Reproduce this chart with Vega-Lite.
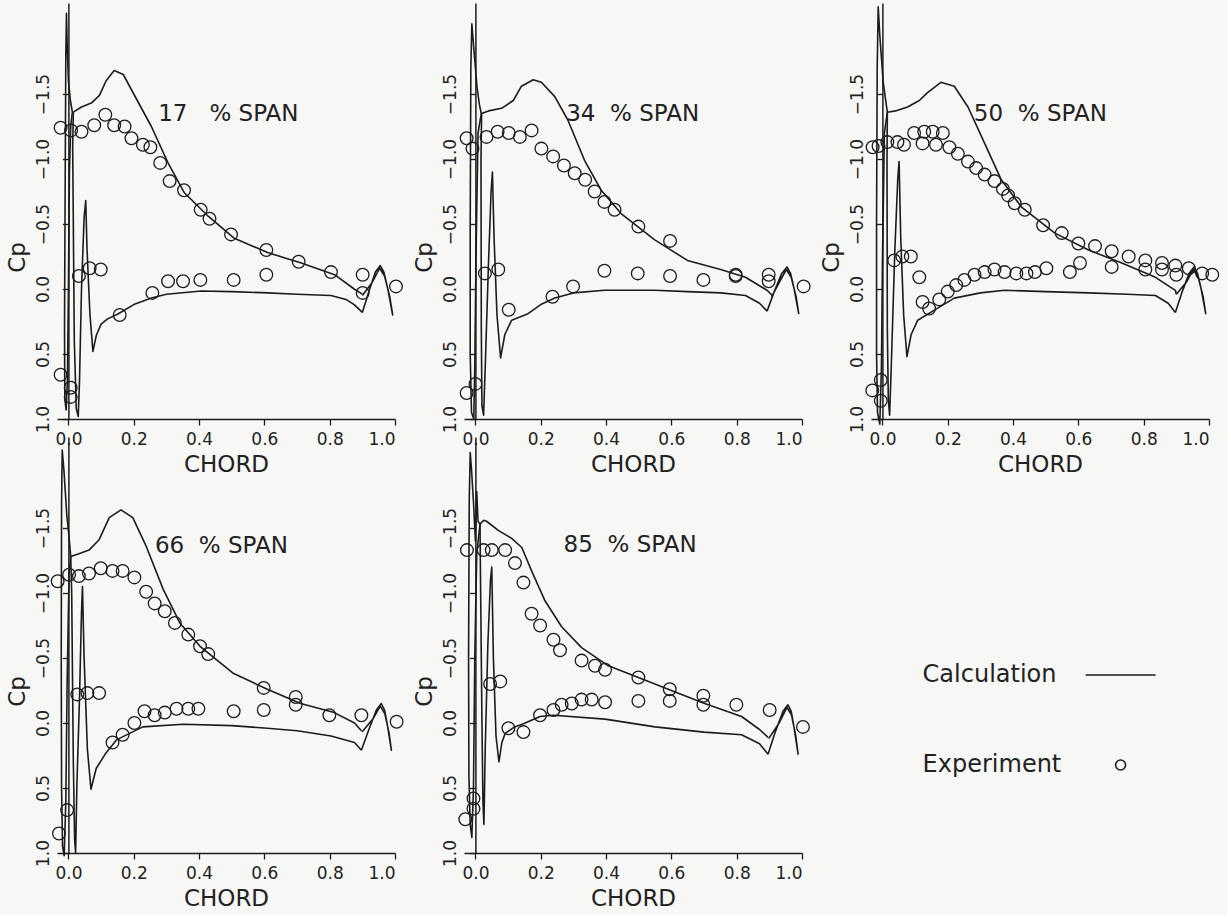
{
  "$schema": "https://vega.github.io/schema/vega-lite/v6.json",
  "background": "#f7f7f5",
  "padding": {"left": 6, "top": 3, "right": 5, "bottom": 5},
  "data": {"values": [
    {"p":"17","s":"Label","t":"17\u00a0\u00a0\u00a0% SPAN"},
    {"p":"34","s":"Label","t":"34\u00a0\u00a0% SPAN"},
    {"p":"50","s":"Label","t":"50\u00a0\u00a0% SPAN"},
    {"p":"66","s":"Label","t":"66\u00a0\u00a0% SPAN"},
    {"p":"85","s":"Label","t":"85\u00a0\u00a0% SPAN"},

    {"p":"17","s":"Calculation","e":"slat","i":0,"x":0.012,"y":-1.36},
    {"p":"17","s":"Calculation","e":"slat","i":1,"x":0.006,"y":-1.45},
    {"p":"17","s":"Calculation","e":"slat","i":2,"x":0.0,"y":-1.6},
    {"p":"17","s":"Calculation","e":"slat","i":3,"x":-0.004,"y":-1.9},
    {"p":"17","s":"Calculation","e":"slat","i":4,"x":-0.006,"y":-2.12},
    {"p":"17","s":"Calculation","e":"slat","i":5,"x":-0.008,"y":-1.8},
    {"p":"17","s":"Calculation","e":"slat","i":6,"x":-0.01,"y":-0.8},
    {"p":"17","s":"Calculation","e":"slat","i":7,"x":-0.012,"y":0.3},
    {"p":"17","s":"Calculation","e":"slat","i":8,"x":-0.011,"y":0.85},
    {"p":"17","s":"Calculation","e":"slat","i":9,"x":-0.007,"y":0.93},
    {"p":"17","s":"Calculation","e":"slat","i":10,"x":-0.003,"y":0.7},
    {"p":"17","s":"Calculation","e":"slat","i":11,"x":0.0,"y":0.0},
    {"p":"17","s":"Calculation","e":"slat","i":12,"x":0.003,"y":-0.9},
    {"p":"17","s":"Calculation","e":"slat","i":13,"x":0.007,"y":-1.25},
    {"p":"17","s":"Calculation","e":"slat","i":14,"x":0.012,"y":-1.36},
    {"p":"17","s":"Calculation","e":"main","i":0,"x":0.9,"y":0.04},
    {"p":"17","s":"Calculation","e":"main","i":1,"x":0.875,"y":0.0},
    {"p":"17","s":"Calculation","e":"main","i":2,"x":0.815,"y":-0.11},
    {"p":"17","s":"Calculation","e":"main","i":3,"x":0.713,"y":-0.2},
    {"p":"17","s":"Calculation","e":"main","i":4,"x":0.61,"y":-0.28},
    {"p":"17","s":"Calculation","e":"main","i":5,"x":0.508,"y":-0.39},
    {"p":"17","s":"Calculation","e":"main","i":6,"x":0.428,"y":-0.56},
    {"p":"17","s":"Calculation","e":"main","i":7,"x":0.355,"y":-0.74},
    {"p":"17","s":"Calculation","e":"main","i":8,"x":0.305,"y":-0.97},
    {"p":"17","s":"Calculation","e":"main","i":9,"x":0.254,"y":-1.25},
    {"p":"17","s":"Calculation","e":"main","i":10,"x":0.2,"y":-1.5},
    {"p":"17","s":"Calculation","e":"main","i":11,"x":0.168,"y":-1.65},
    {"p":"17","s":"Calculation","e":"main","i":12,"x":0.14,"y":-1.68},
    {"p":"17","s":"Calculation","e":"main","i":13,"x":0.115,"y":-1.6},
    {"p":"17","s":"Calculation","e":"main","i":14,"x":0.095,"y":-1.49},
    {"p":"17","s":"Calculation","e":"main","i":15,"x":0.07,"y":-1.43},
    {"p":"17","s":"Calculation","e":"main","i":16,"x":0.04,"y":-1.4},
    {"p":"17","s":"Calculation","e":"main","i":17,"x":0.015,"y":-1.36},
    {"p":"17","s":"Calculation","e":"main","i":18,"x":0.013,"y":-1.1},
    {"p":"17","s":"Calculation","e":"main","i":19,"x":0.018,"y":0.4},
    {"p":"17","s":"Calculation","e":"main","i":20,"x":0.024,"y":0.92},
    {"p":"17","s":"Calculation","e":"main","i":21,"x":0.03,"y":0.98},
    {"p":"17","s":"Calculation","e":"main","i":22,"x":0.034,"y":0.7},
    {"p":"17","s":"Calculation","e":"main","i":23,"x":0.04,"y":0.0},
    {"p":"17","s":"Calculation","e":"main","i":24,"x":0.048,"y":-0.55},
    {"p":"17","s":"Calculation","e":"main","i":25,"x":0.053,"y":-0.68},
    {"p":"17","s":"Calculation","e":"main","i":26,"x":0.057,"y":-0.3},
    {"p":"17","s":"Calculation","e":"main","i":27,"x":0.066,"y":0.2},
    {"p":"17","s":"Calculation","e":"main","i":28,"x":0.075,"y":0.48},
    {"p":"17","s":"Calculation","e":"main","i":29,"x":0.085,"y":0.36},
    {"p":"17","s":"Calculation","e":"main","i":30,"x":0.1,"y":0.27},
    {"p":"17","s":"Calculation","e":"main","i":31,"x":0.12,"y":0.23},
    {"p":"17","s":"Calculation","e":"main","i":32,"x":0.153,"y":0.19},
    {"p":"17","s":"Calculation","e":"main","i":33,"x":0.2,"y":0.12},
    {"p":"17","s":"Calculation","e":"main","i":34,"x":0.254,"y":0.07},
    {"p":"17","s":"Calculation","e":"main","i":35,"x":0.3,"y":0.04},
    {"p":"17","s":"Calculation","e":"main","i":36,"x":0.407,"y":0.015},
    {"p":"17","s":"Calculation","e":"main","i":37,"x":0.5,"y":0.02},
    {"p":"17","s":"Calculation","e":"main","i":38,"x":0.61,"y":0.03},
    {"p":"17","s":"Calculation","e":"main","i":39,"x":0.7,"y":0.04},
    {"p":"17","s":"Calculation","e":"main","i":40,"x":0.804,"y":0.05},
    {"p":"17","s":"Calculation","e":"main","i":41,"x":0.85,"y":0.08},
    {"p":"17","s":"Calculation","e":"main","i":42,"x":0.875,"y":0.12},
    {"p":"17","s":"Calculation","e":"main","i":43,"x":0.9,"y":0.18},
    {"p":"17","s":"Calculation","e":"flap","i":0,"x":0.9,"y":0.18},
    {"p":"17","s":"Calculation","e":"flap","i":1,"x":0.92,"y":0.02},
    {"p":"17","s":"Calculation","e":"flap","i":2,"x":0.94,"y":-0.13},
    {"p":"17","s":"Calculation","e":"flap","i":3,"x":0.955,"y":-0.18},
    {"p":"17","s":"Calculation","e":"flap","i":4,"x":0.966,"y":-0.13},
    {"p":"17","s":"Calculation","e":"flap","i":5,"x":0.978,"y":0.0},
    {"p":"17","s":"Calculation","e":"flap","i":6,"x":0.993,"y":0.2},
    {"p":"17","s":"Calculation","e":"flap","i":7,"x":0.984,"y":0.06},
    {"p":"17","s":"Calculation","e":"flap","i":8,"x":0.968,"y":-0.1},
    {"p":"17","s":"Calculation","e":"flap","i":9,"x":0.953,"y":-0.16},
    {"p":"17","s":"Calculation","e":"flap","i":10,"x":0.93,"y":-0.05},
    {"p":"17","s":"Calculation","e":"flap","i":11,"x":0.9,"y":0.05},

    {"p":"17","s":"Experiment","x":-0.024,"y":-1.24},
    {"p":"17","s":"Experiment","x":0.008,"y":-1.22},
    {"p":"17","s":"Experiment","x":0.04,"y":-1.21},
    {"p":"17","s":"Experiment","x":0.079,"y":-1.26},
    {"p":"17","s":"Experiment","x":0.113,"y":-1.34},
    {"p":"17","s":"Experiment","x":0.14,"y":-1.26},
    {"p":"17","s":"Experiment","x":0.172,"y":-1.25},
    {"p":"17","s":"Experiment","x":0.193,"y":-1.16},
    {"p":"17","s":"Experiment","x":0.228,"y":-1.11},
    {"p":"17","s":"Experiment","x":0.251,"y":-1.09},
    {"p":"17","s":"Experiment","x":0.281,"y":-0.97},
    {"p":"17","s":"Experiment","x":0.31,"y":-0.83},
    {"p":"17","s":"Experiment","x":0.354,"y":-0.76},
    {"p":"17","s":"Experiment","x":0.405,"y":-0.61},
    {"p":"17","s":"Experiment","x":0.432,"y":-0.54},
    {"p":"17","s":"Experiment","x":0.498,"y":-0.42},
    {"p":"17","s":"Experiment","x":0.606,"y":-0.3},
    {"p":"17","s":"Experiment","x":0.705,"y":-0.21},
    {"p":"17","s":"Experiment","x":0.804,"y":-0.13},
    {"p":"17","s":"Experiment","x":0.901,"y":-0.11},
    {"p":"17","s":"Experiment","x":0.901,"y":0.03},
    {"p":"17","s":"Experiment","x":1.003,"y":-0.02},
    {"p":"17","s":"Experiment","x":0.032,"y":-0.1},
    {"p":"17","s":"Experiment","x":0.065,"y":-0.16},
    {"p":"17","s":"Experiment","x":0.099,"y":-0.15},
    {"p":"17","s":"Experiment","x":0.157,"y":0.2},
    {"p":"17","s":"Experiment","x":0.257,"y":0.03},
    {"p":"17","s":"Experiment","x":0.305,"y":-0.06},
    {"p":"17","s":"Experiment","x":0.351,"y":-0.06},
    {"p":"17","s":"Experiment","x":0.404,"y":-0.07},
    {"p":"17","s":"Experiment","x":0.506,"y":-0.07},
    {"p":"17","s":"Experiment","x":0.606,"y":-0.11},
    {"p":"17","s":"Experiment","x":-0.024,"y":0.66},
    {"p":"17","s":"Experiment","x":0.007,"y":0.76},
    {"p":"17","s":"Experiment","x":0.007,"y":0.83},

    {"p":"34","s":"Calculation","e":"slat","i":0,"x":0.018,"y":-1.35},
    {"p":"34","s":"Calculation","e":"slat","i":1,"x":0.012,"y":-1.42},
    {"p":"34","s":"Calculation","e":"slat","i":2,"x":0.005,"y":-1.55},
    {"p":"34","s":"Calculation","e":"slat","i":3,"x":-0.005,"y":-1.85},
    {"p":"34","s":"Calculation","e":"slat","i":4,"x":-0.011,"y":-2.04},
    {"p":"34","s":"Calculation","e":"slat","i":5,"x":-0.014,"y":-1.7},
    {"p":"34","s":"Calculation","e":"slat","i":6,"x":-0.016,"y":-0.5},
    {"p":"34","s":"Calculation","e":"slat","i":7,"x":-0.016,"y":0.5},
    {"p":"34","s":"Calculation","e":"slat","i":8,"x":-0.012,"y":0.95},
    {"p":"34","s":"Calculation","e":"slat","i":9,"x":-0.005,"y":1.0},
    {"p":"34","s":"Calculation","e":"slat","i":10,"x":-0.002,"y":0.6},
    {"p":"34","s":"Calculation","e":"slat","i":11,"x":0.002,"y":-0.3},
    {"p":"34","s":"Calculation","e":"slat","i":12,"x":0.008,"y":-1.2},
    {"p":"34","s":"Calculation","e":"slat","i":13,"x":0.018,"y":-1.35},
    {"p":"34","s":"Calculation","e":"main","i":0,"x":0.909,"y":0.05},
    {"p":"34","s":"Calculation","e":"main","i":1,"x":0.893,"y":0.01},
    {"p":"34","s":"Calculation","e":"main","i":2,"x":0.827,"y":-0.09},
    {"p":"34","s":"Calculation","e":"main","i":3,"x":0.751,"y":-0.15},
    {"p":"34","s":"Calculation","e":"main","i":4,"x":0.649,"y":-0.22},
    {"p":"34","s":"Calculation","e":"main","i":5,"x":0.548,"y":-0.38},
    {"p":"34","s":"Calculation","e":"main","i":6,"x":0.446,"y":-0.58},
    {"p":"34","s":"Calculation","e":"main","i":7,"x":0.385,"y":-0.76},
    {"p":"34","s":"Calculation","e":"main","i":8,"x":0.334,"y":-0.99},
    {"p":"34","s":"Calculation","e":"main","i":9,"x":0.283,"y":-1.3},
    {"p":"34","s":"Calculation","e":"main","i":10,"x":0.243,"y":-1.48},
    {"p":"34","s":"Calculation","e":"main","i":11,"x":0.202,"y":-1.59},
    {"p":"34","s":"Calculation","e":"main","i":12,"x":0.177,"y":-1.61},
    {"p":"34","s":"Calculation","e":"main","i":13,"x":0.141,"y":-1.56},
    {"p":"34","s":"Calculation","e":"main","i":14,"x":0.116,"y":-1.45},
    {"p":"34","s":"Calculation","e":"main","i":15,"x":0.08,"y":-1.39},
    {"p":"34","s":"Calculation","e":"main","i":16,"x":0.04,"y":-1.37},
    {"p":"34","s":"Calculation","e":"main","i":17,"x":0.019,"y":-1.35},
    {"p":"34","s":"Calculation","e":"main","i":18,"x":0.017,"y":-1.0},
    {"p":"34","s":"Calculation","e":"main","i":19,"x":0.018,"y":0.3},
    {"p":"34","s":"Calculation","e":"main","i":20,"x":0.02,"y":0.9},
    {"p":"34","s":"Calculation","e":"main","i":21,"x":0.025,"y":0.97},
    {"p":"34","s":"Calculation","e":"main","i":22,"x":0.03,"y":0.6},
    {"p":"34","s":"Calculation","e":"main","i":23,"x":0.04,"y":-0.2},
    {"p":"34","s":"Calculation","e":"main","i":24,"x":0.048,"y":-0.75},
    {"p":"34","s":"Calculation","e":"main","i":25,"x":0.052,"y":-0.9},
    {"p":"34","s":"Calculation","e":"main","i":26,"x":0.057,"y":-0.4},
    {"p":"34","s":"Calculation","e":"main","i":27,"x":0.066,"y":0.2},
    {"p":"34","s":"Calculation","e":"main","i":28,"x":0.077,"y":0.53},
    {"p":"34","s":"Calculation","e":"main","i":29,"x":0.09,"y":0.35},
    {"p":"34","s":"Calculation","e":"main","i":30,"x":0.111,"y":0.24},
    {"p":"34","s":"Calculation","e":"main","i":31,"x":0.161,"y":0.19},
    {"p":"34","s":"Calculation","e":"main","i":32,"x":0.2,"y":0.12},
    {"p":"34","s":"Calculation","e":"main","i":33,"x":0.243,"y":0.07},
    {"p":"34","s":"Calculation","e":"main","i":34,"x":0.3,"y":0.03},
    {"p":"34","s":"Calculation","e":"main","i":35,"x":0.395,"y":0.01},
    {"p":"34","s":"Calculation","e":"main","i":36,"x":0.548,"y":0.01},
    {"p":"34","s":"Calculation","e":"main","i":37,"x":0.65,"y":0.02},
    {"p":"34","s":"Calculation","e":"main","i":38,"x":0.751,"y":0.03},
    {"p":"34","s":"Calculation","e":"main","i":39,"x":0.827,"y":0.05},
    {"p":"34","s":"Calculation","e":"main","i":40,"x":0.87,"y":0.11},
    {"p":"34","s":"Calculation","e":"main","i":41,"x":0.893,"y":0.17},
    {"p":"34","s":"Calculation","e":"flap","i":0,"x":0.893,"y":0.17},
    {"p":"34","s":"Calculation","e":"flap","i":1,"x":0.915,"y":0.02},
    {"p":"34","s":"Calculation","e":"flap","i":2,"x":0.938,"y":-0.12},
    {"p":"34","s":"Calculation","e":"flap","i":3,"x":0.954,"y":-0.17},
    {"p":"34","s":"Calculation","e":"flap","i":4,"x":0.965,"y":-0.12},
    {"p":"34","s":"Calculation","e":"flap","i":5,"x":0.976,"y":0.0},
    {"p":"34","s":"Calculation","e":"flap","i":6,"x":0.99,"y":0.19},
    {"p":"34","s":"Calculation","e":"flap","i":7,"x":0.982,"y":0.06},
    {"p":"34","s":"Calculation","e":"flap","i":8,"x":0.967,"y":-0.09},
    {"p":"34","s":"Calculation","e":"flap","i":9,"x":0.952,"y":-0.15},
    {"p":"34","s":"Calculation","e":"flap","i":10,"x":0.93,"y":-0.05},
    {"p":"34","s":"Calculation","e":"flap","i":11,"x":0.907,"y":0.06},

    {"p":"34","s":"Experiment","x":-0.027,"y":-1.16},
    {"p":"34","s":"Experiment","x":-0.009,"y":-1.08},
    {"p":"34","s":"Experiment","x":0.034,"y":-1.17},
    {"p":"34","s":"Experiment","x":0.068,"y":-1.21},
    {"p":"34","s":"Experiment","x":0.102,"y":-1.2},
    {"p":"34","s":"Experiment","x":0.136,"y":-1.17},
    {"p":"34","s":"Experiment","x":0.172,"y":-1.22},
    {"p":"34","s":"Experiment","x":0.202,"y":-1.08},
    {"p":"34","s":"Experiment","x":0.238,"y":-1.02},
    {"p":"34","s":"Experiment","x":0.271,"y":-0.95},
    {"p":"34","s":"Experiment","x":0.304,"y":-0.89},
    {"p":"34","s":"Experiment","x":0.336,"y":-0.84},
    {"p":"34","s":"Experiment","x":0.365,"y":-0.75},
    {"p":"34","s":"Experiment","x":0.395,"y":-0.67},
    {"p":"34","s":"Experiment","x":0.426,"y":-0.61},
    {"p":"34","s":"Experiment","x":0.499,"y":-0.48},
    {"p":"34","s":"Experiment","x":0.596,"y":-0.37},
    {"p":"34","s":"Experiment","x":0.797,"y":-0.11},
    {"p":"34","s":"Experiment","x":0.898,"y":-0.11},
    {"p":"34","s":"Experiment","x":1.005,"y":-0.02},
    {"p":"34","s":"Experiment","x":0.029,"y":-0.12},
    {"p":"34","s":"Experiment","x":0.07,"y":-0.15},
    {"p":"34","s":"Experiment","x":0.102,"y":0.16},
    {"p":"34","s":"Experiment","x":0.236,"y":0.06},
    {"p":"34","s":"Experiment","x":0.299,"y":-0.02},
    {"p":"34","s":"Experiment","x":0.395,"y":-0.14},
    {"p":"34","s":"Experiment","x":0.497,"y":-0.12},
    {"p":"34","s":"Experiment","x":0.596,"y":-0.1},
    {"p":"34","s":"Experiment","x":0.698,"y":-0.07},
    {"p":"34","s":"Experiment","x":0.797,"y":-0.1},
    {"p":"34","s":"Experiment","x":0.898,"y":-0.06},
    {"p":"34","s":"Experiment","x":-0.027,"y":0.8},
    {"p":"34","s":"Experiment","x":0.0,"y":0.73},

    {"p":"50","s":"Calculation","e":"slat","i":0,"x":0.015,"y":-1.36},
    {"p":"50","s":"Calculation","e":"slat","i":1,"x":0.01,"y":-1.45},
    {"p":"50","s":"Calculation","e":"slat","i":2,"x":0.002,"y":-1.6},
    {"p":"50","s":"Calculation","e":"slat","i":3,"x":-0.008,"y":-1.95},
    {"p":"50","s":"Calculation","e":"slat","i":4,"x":-0.013,"y":-2.17},
    {"p":"50","s":"Calculation","e":"slat","i":5,"x":-0.016,"y":-1.7},
    {"p":"50","s":"Calculation","e":"slat","i":6,"x":-0.018,"y":-0.5},
    {"p":"50","s":"Calculation","e":"slat","i":7,"x":-0.018,"y":0.5},
    {"p":"50","s":"Calculation","e":"slat","i":8,"x":-0.015,"y":0.95},
    {"p":"50","s":"Calculation","e":"slat","i":9,"x":-0.008,"y":1.04},
    {"p":"50","s":"Calculation","e":"slat","i":10,"x":-0.003,"y":0.6},
    {"p":"50","s":"Calculation","e":"slat","i":11,"x":0.0,"y":-0.2},
    {"p":"50","s":"Calculation","e":"slat","i":12,"x":0.006,"y":-1.2},
    {"p":"50","s":"Calculation","e":"slat","i":13,"x":0.015,"y":-1.36},
    {"p":"50","s":"Calculation","e":"main","i":0,"x":0.9,"y":0.04},
    {"p":"50","s":"Calculation","e":"main","i":1,"x":0.897,"y":0.01},
    {"p":"50","s":"Calculation","e":"main","i":2,"x":0.836,"y":-0.09},
    {"p":"50","s":"Calculation","e":"main","i":3,"x":0.733,"y":-0.2},
    {"p":"50","s":"Calculation","e":"main","i":4,"x":0.631,"y":-0.3},
    {"p":"50","s":"Calculation","e":"main","i":5,"x":0.528,"y":-0.43},
    {"p":"50","s":"Calculation","e":"main","i":6,"x":0.426,"y":-0.63},
    {"p":"50","s":"Calculation","e":"main","i":7,"x":0.364,"y":-0.84},
    {"p":"50","s":"Calculation","e":"main","i":8,"x":0.313,"y":-1.12},
    {"p":"50","s":"Calculation","e":"main","i":9,"x":0.262,"y":-1.4},
    {"p":"50","s":"Calculation","e":"main","i":10,"x":0.22,"y":-1.56},
    {"p":"50","s":"Calculation","e":"main","i":11,"x":0.179,"y":-1.59},
    {"p":"50","s":"Calculation","e":"main","i":12,"x":0.138,"y":-1.51},
    {"p":"50","s":"Calculation","e":"main","i":13,"x":0.113,"y":-1.45},
    {"p":"50","s":"Calculation","e":"main","i":14,"x":0.077,"y":-1.4},
    {"p":"50","s":"Calculation","e":"main","i":15,"x":0.04,"y":-1.37},
    {"p":"50","s":"Calculation","e":"main","i":16,"x":0.015,"y":-1.36},
    {"p":"50","s":"Calculation","e":"main","i":17,"x":0.014,"y":-1.0},
    {"p":"50","s":"Calculation","e":"main","i":18,"x":0.015,"y":0.3},
    {"p":"50","s":"Calculation","e":"main","i":19,"x":0.018,"y":0.85},
    {"p":"50","s":"Calculation","e":"main","i":20,"x":0.022,"y":0.97},
    {"p":"50","s":"Calculation","e":"main","i":21,"x":0.027,"y":0.6},
    {"p":"50","s":"Calculation","e":"main","i":22,"x":0.038,"y":-0.3},
    {"p":"50","s":"Calculation","e":"main","i":23,"x":0.047,"y":-0.85},
    {"p":"50","s":"Calculation","e":"main","i":24,"x":0.051,"y":-0.98},
    {"p":"50","s":"Calculation","e":"main","i":25,"x":0.056,"y":-0.4},
    {"p":"50","s":"Calculation","e":"main","i":26,"x":0.065,"y":0.2},
    {"p":"50","s":"Calculation","e":"main","i":27,"x":0.075,"y":0.52},
    {"p":"50","s":"Calculation","e":"main","i":28,"x":0.088,"y":0.35},
    {"p":"50","s":"Calculation","e":"main","i":29,"x":0.108,"y":0.24},
    {"p":"50","s":"Calculation","e":"main","i":30,"x":0.154,"y":0.17},
    {"p":"50","s":"Calculation","e":"main","i":31,"x":0.22,"y":0.07},
    {"p":"50","s":"Calculation","e":"main","i":32,"x":0.3,"y":0.03},
    {"p":"50","s":"Calculation","e":"main","i":33,"x":0.374,"y":0.01},
    {"p":"50","s":"Calculation","e":"main","i":34,"x":0.5,"y":0.02},
    {"p":"50","s":"Calculation","e":"main","i":35,"x":0.631,"y":0.03},
    {"p":"50","s":"Calculation","e":"main","i":36,"x":0.75,"y":0.04},
    {"p":"50","s":"Calculation","e":"main","i":37,"x":0.836,"y":0.05},
    {"p":"50","s":"Calculation","e":"main","i":38,"x":0.875,"y":0.11},
    {"p":"50","s":"Calculation","e":"main","i":39,"x":0.897,"y":0.18},
    {"p":"50","s":"Calculation","e":"flap","i":0,"x":0.897,"y":0.18},
    {"p":"50","s":"Calculation","e":"flap","i":1,"x":0.918,"y":0.02},
    {"p":"50","s":"Calculation","e":"flap","i":2,"x":0.939,"y":-0.12},
    {"p":"50","s":"Calculation","e":"flap","i":3,"x":0.954,"y":-0.17},
    {"p":"50","s":"Calculation","e":"flap","i":4,"x":0.965,"y":-0.12},
    {"p":"50","s":"Calculation","e":"flap","i":5,"x":0.976,"y":0.0},
    {"p":"50","s":"Calculation","e":"flap","i":6,"x":0.99,"y":0.19},
    {"p":"50","s":"Calculation","e":"flap","i":7,"x":0.982,"y":0.06},
    {"p":"50","s":"Calculation","e":"flap","i":8,"x":0.967,"y":-0.09},
    {"p":"50","s":"Calculation","e":"flap","i":9,"x":0.952,"y":-0.15},
    {"p":"50","s":"Calculation","e":"flap","i":10,"x":0.93,"y":-0.05},
    {"p":"50","s":"Calculation","e":"flap","i":11,"x":0.9,"y":0.04},

    {"p":"50","s":"Experiment","x":-0.03,"y":-1.09},
    {"p":"50","s":"Experiment","x":-0.012,"y":-1.1},
    {"p":"50","s":"Experiment","x":0.015,"y":-1.13},
    {"p":"50","s":"Experiment","x":0.046,"y":-1.13},
    {"p":"50","s":"Experiment","x":0.066,"y":-1.11},
    {"p":"50","s":"Experiment","x":0.097,"y":-1.2},
    {"p":"50","s":"Experiment","x":0.128,"y":-1.21},
    {"p":"50","s":"Experiment","x":0.154,"y":-1.21},
    {"p":"50","s":"Experiment","x":0.185,"y":-1.2},
    {"p":"50","s":"Experiment","x":0.123,"y":-1.12},
    {"p":"50","s":"Experiment","x":0.164,"y":-1.11},
    {"p":"50","s":"Experiment","x":0.205,"y":-1.09},
    {"p":"50","s":"Experiment","x":0.231,"y":-1.04},
    {"p":"50","s":"Experiment","x":0.262,"y":-0.98},
    {"p":"50","s":"Experiment","x":0.287,"y":-0.93},
    {"p":"50","s":"Experiment","x":0.313,"y":-0.88},
    {"p":"50","s":"Experiment","x":0.343,"y":-0.83},
    {"p":"50","s":"Experiment","x":0.369,"y":-0.77},
    {"p":"50","s":"Experiment","x":0.385,"y":-0.72},
    {"p":"50","s":"Experiment","x":0.405,"y":-0.66},
    {"p":"50","s":"Experiment","x":0.436,"y":-0.61},
    {"p":"50","s":"Experiment","x":0.492,"y":-0.49},
    {"p":"50","s":"Experiment","x":0.549,"y":-0.43},
    {"p":"50","s":"Experiment","x":0.6,"y":-0.35},
    {"p":"50","s":"Experiment","x":0.651,"y":-0.33},
    {"p":"50","s":"Experiment","x":0.702,"y":-0.29},
    {"p":"50","s":"Experiment","x":0.754,"y":-0.25},
    {"p":"50","s":"Experiment","x":0.805,"y":-0.22},
    {"p":"50","s":"Experiment","x":0.856,"y":-0.2},
    {"p":"50","s":"Experiment","x":0.897,"y":-0.18},
    {"p":"50","s":"Experiment","x":0.938,"y":-0.16},
    {"p":"50","s":"Experiment","x":0.979,"y":-0.12},
    {"p":"50","s":"Experiment","x":1.01,"y":-0.11},
    {"p":"50","s":"Experiment","x":0.702,"y":-0.17},
    {"p":"50","s":"Experiment","x":0.805,"y":-0.15},
    {"p":"50","s":"Experiment","x":0.856,"y":-0.15},
    {"p":"50","s":"Experiment","x":0.9,"y":-0.11},
    {"p":"50","s":"Experiment","x":0.036,"y":-0.22},
    {"p":"50","s":"Experiment","x":0.061,"y":-0.25},
    {"p":"50","s":"Experiment","x":0.087,"y":-0.25},
    {"p":"50","s":"Experiment","x":0.113,"y":-0.09},
    {"p":"50","s":"Experiment","x":0.123,"y":0.1},
    {"p":"50","s":"Experiment","x":0.143,"y":0.15},
    {"p":"50","s":"Experiment","x":0.174,"y":0.08},
    {"p":"50","s":"Experiment","x":0.2,"y":0.02},
    {"p":"50","s":"Experiment","x":0.226,"y":-0.03},
    {"p":"50","s":"Experiment","x":0.251,"y":-0.07},
    {"p":"50","s":"Experiment","x":0.282,"y":-0.11},
    {"p":"50","s":"Experiment","x":0.313,"y":-0.13},
    {"p":"50","s":"Experiment","x":0.343,"y":-0.15},
    {"p":"50","s":"Experiment","x":0.374,"y":-0.13},
    {"p":"50","s":"Experiment","x":0.41,"y":-0.12},
    {"p":"50","s":"Experiment","x":0.441,"y":-0.12},
    {"p":"50","s":"Experiment","x":0.467,"y":-0.13},
    {"p":"50","s":"Experiment","x":0.502,"y":-0.16},
    {"p":"50","s":"Experiment","x":0.574,"y":-0.13},
    {"p":"50","s":"Experiment","x":0.605,"y":-0.2},
    {"p":"50","s":"Experiment","x":-0.031,"y":0.78},
    {"p":"50","s":"Experiment","x":-0.005,"y":0.7},
    {"p":"50","s":"Experiment","x":-0.005,"y":0.86},

    {"p":"66","s":"Calculation","e":"slat","i":0,"x":0.007,"y":-1.28},
    {"p":"66","s":"Calculation","e":"slat","i":1,"x":0.003,"y":-1.4},
    {"p":"66","s":"Calculation","e":"slat","i":2,"x":-0.005,"y":-1.6},
    {"p":"66","s":"Calculation","e":"slat","i":3,"x":-0.014,"y":-1.95},
    {"p":"66","s":"Calculation","e":"slat","i":4,"x":-0.019,"y":-2.1},
    {"p":"66","s":"Calculation","e":"slat","i":5,"x":-0.021,"y":-1.7},
    {"p":"66","s":"Calculation","e":"slat","i":6,"x":-0.022,"y":-0.5},
    {"p":"66","s":"Calculation","e":"slat","i":7,"x":-0.021,"y":0.5},
    {"p":"66","s":"Calculation","e":"slat","i":8,"x":-0.018,"y":0.95},
    {"p":"66","s":"Calculation","e":"slat","i":9,"x":-0.013,"y":1.02},
    {"p":"66","s":"Calculation","e":"slat","i":10,"x":-0.008,"y":0.6},
    {"p":"66","s":"Calculation","e":"slat","i":11,"x":-0.004,"y":-0.3},
    {"p":"66","s":"Calculation","e":"slat","i":12,"x":0.002,"y":-1.15},
    {"p":"66","s":"Calculation","e":"slat","i":13,"x":0.007,"y":-1.28},
    {"p":"66","s":"Calculation","e":"main","i":0,"x":0.897,"y":0.06},
    {"p":"66","s":"Calculation","e":"main","i":1,"x":0.876,"y":0.0},
    {"p":"66","s":"Calculation","e":"main","i":2,"x":0.814,"y":-0.08},
    {"p":"66","s":"Calculation","e":"main","i":3,"x":0.711,"y":-0.15},
    {"p":"66","s":"Calculation","e":"main","i":4,"x":0.609,"y":-0.26},
    {"p":"66","s":"Calculation","e":"main","i":5,"x":0.506,"y":-0.38},
    {"p":"66","s":"Calculation","e":"main","i":6,"x":0.403,"y":-0.59},
    {"p":"66","s":"Calculation","e":"main","i":7,"x":0.341,"y":-0.77},
    {"p":"66","s":"Calculation","e":"main","i":8,"x":0.29,"y":-1.03},
    {"p":"66","s":"Calculation","e":"main","i":9,"x":0.238,"y":-1.36},
    {"p":"66","s":"Calculation","e":"main","i":10,"x":0.197,"y":-1.58},
    {"p":"66","s":"Calculation","e":"main","i":11,"x":0.161,"y":-1.64},
    {"p":"66","s":"Calculation","e":"main","i":12,"x":0.125,"y":-1.58},
    {"p":"66","s":"Calculation","e":"main","i":13,"x":0.094,"y":-1.41},
    {"p":"66","s":"Calculation","e":"main","i":14,"x":0.063,"y":-1.33},
    {"p":"66","s":"Calculation","e":"main","i":15,"x":0.03,"y":-1.3},
    {"p":"66","s":"Calculation","e":"main","i":16,"x":0.007,"y":-1.28},
    {"p":"66","s":"Calculation","e":"main","i":17,"x":0.01,"y":-1.0},
    {"p":"66","s":"Calculation","e":"main","i":18,"x":0.015,"y":0.3},
    {"p":"66","s":"Calculation","e":"main","i":19,"x":0.019,"y":0.9},
    {"p":"66","s":"Calculation","e":"main","i":20,"x":0.022,"y":1.0},
    {"p":"66","s":"Calculation","e":"main","i":21,"x":0.026,"y":0.47},
    {"p":"66","s":"Calculation","e":"main","i":22,"x":0.034,"y":-0.2},
    {"p":"66","s":"Calculation","e":"main","i":23,"x":0.04,"y":-0.85},
    {"p":"66","s":"Calculation","e":"main","i":24,"x":0.043,"y":-1.05},
    {"p":"66","s":"Calculation","e":"main","i":25,"x":0.048,"y":-0.5},
    {"p":"66","s":"Calculation","e":"main","i":26,"x":0.058,"y":0.2},
    {"p":"66","s":"Calculation","e":"main","i":27,"x":0.069,"y":0.51},
    {"p":"66","s":"Calculation","e":"main","i":28,"x":0.085,"y":0.35},
    {"p":"66","s":"Calculation","e":"main","i":29,"x":0.115,"y":0.23},
    {"p":"66","s":"Calculation","e":"main","i":30,"x":0.147,"y":0.13},
    {"p":"66","s":"Calculation","e":"main","i":31,"x":0.228,"y":0.03},
    {"p":"66","s":"Calculation","e":"main","i":32,"x":0.351,"y":0.01},
    {"p":"66","s":"Calculation","e":"main","i":33,"x":0.5,"y":0.02},
    {"p":"66","s":"Calculation","e":"main","i":34,"x":0.609,"y":0.04},
    {"p":"66","s":"Calculation","e":"main","i":35,"x":0.7,"y":0.06},
    {"p":"66","s":"Calculation","e":"main","i":36,"x":0.804,"y":0.1},
    {"p":"66","s":"Calculation","e":"main","i":37,"x":0.876,"y":0.15},
    {"p":"66","s":"Calculation","e":"main","i":38,"x":0.897,"y":0.21},
    {"p":"66","s":"Calculation","e":"flap","i":0,"x":0.897,"y":0.21},
    {"p":"66","s":"Calculation","e":"flap","i":1,"x":0.92,"y":0.05},
    {"p":"66","s":"Calculation","e":"flap","i":2,"x":0.943,"y":-0.1},
    {"p":"66","s":"Calculation","e":"flap","i":3,"x":0.958,"y":-0.15},
    {"p":"66","s":"Calculation","e":"flap","i":4,"x":0.968,"y":-0.1},
    {"p":"66","s":"Calculation","e":"flap","i":5,"x":0.977,"y":0.02},
    {"p":"66","s":"Calculation","e":"flap","i":6,"x":0.989,"y":0.21},
    {"p":"66","s":"Calculation","e":"flap","i":7,"x":0.982,"y":0.08},
    {"p":"66","s":"Calculation","e":"flap","i":8,"x":0.969,"y":-0.07},
    {"p":"66","s":"Calculation","e":"flap","i":9,"x":0.955,"y":-0.13},
    {"p":"66","s":"Calculation","e":"flap","i":10,"x":0.932,"y":-0.03},
    {"p":"66","s":"Calculation","e":"flap","i":11,"x":0.899,"y":0.07},

    {"p":"66","s":"Experiment","x":-0.033,"y":-1.09},
    {"p":"66","s":"Experiment","x":0.002,"y":-1.14},
    {"p":"66","s":"Experiment","x":0.032,"y":-1.13},
    {"p":"66","s":"Experiment","x":0.063,"y":-1.15},
    {"p":"66","s":"Experiment","x":0.099,"y":-1.19},
    {"p":"66","s":"Experiment","x":0.135,"y":-1.17},
    {"p":"66","s":"Experiment","x":0.166,"y":-1.17},
    {"p":"66","s":"Experiment","x":0.202,"y":-1.12},
    {"p":"66","s":"Experiment","x":0.238,"y":-1.01},
    {"p":"66","s":"Experiment","x":0.264,"y":-0.92},
    {"p":"66","s":"Experiment","x":0.295,"y":-0.86},
    {"p":"66","s":"Experiment","x":0.326,"y":-0.77},
    {"p":"66","s":"Experiment","x":0.367,"y":-0.68},
    {"p":"66","s":"Experiment","x":0.403,"y":-0.59},
    {"p":"66","s":"Experiment","x":0.428,"y":-0.53},
    {"p":"66","s":"Experiment","x":0.598,"y":-0.27},
    {"p":"66","s":"Experiment","x":0.696,"y":-0.2},
    {"p":"66","s":"Experiment","x":0.799,"y":-0.06},
    {"p":"66","s":"Experiment","x":0.897,"y":-0.06},
    {"p":"66","s":"Experiment","x":1.005,"y":-0.01},
    {"p":"66","s":"Experiment","x":0.027,"y":-0.22},
    {"p":"66","s":"Experiment","x":0.058,"y":-0.23},
    {"p":"66","s":"Experiment","x":0.094,"y":-0.23},
    {"p":"66","s":"Experiment","x":0.135,"y":0.15},
    {"p":"66","s":"Experiment","x":0.166,"y":0.09},
    {"p":"66","s":"Experiment","x":0.202,"y":0.0},
    {"p":"66","s":"Experiment","x":0.233,"y":-0.09},
    {"p":"66","s":"Experiment","x":0.264,"y":-0.06},
    {"p":"66","s":"Experiment","x":0.295,"y":-0.08},
    {"p":"66","s":"Experiment","x":0.331,"y":-0.11},
    {"p":"66","s":"Experiment","x":0.367,"y":-0.11},
    {"p":"66","s":"Experiment","x":0.398,"y":-0.11},
    {"p":"66","s":"Experiment","x":0.506,"y":-0.09},
    {"p":"66","s":"Experiment","x":0.598,"y":-0.1},
    {"p":"66","s":"Experiment","x":0.696,"y":-0.14},
    {"p":"66","s":"Experiment","x":-0.029,"y":0.85},
    {"p":"66","s":"Experiment","x":-0.004,"y":0.67},

    {"p":"85","s":"Calculation","e":"slat","i":0,"x":0.014,"y":-1.53},
    {"p":"85","s":"Calculation","e":"slat","i":1,"x":0.008,"y":-1.55},
    {"p":"85","s":"Calculation","e":"slat","i":2,"x":0.004,"y":-1.78},
    {"p":"85","s":"Calculation","e":"slat","i":3,"x":0.0,"y":-1.4},
    {"p":"85","s":"Calculation","e":"slat","i":4,"x":-0.006,"y":-1.7},
    {"p":"85","s":"Calculation","e":"slat","i":5,"x":-0.012,"y":-1.95},
    {"p":"85","s":"Calculation","e":"slat","i":6,"x":-0.016,"y":-2.08},
    {"p":"85","s":"Calculation","e":"slat","i":7,"x":-0.019,"y":-1.7},
    {"p":"85","s":"Calculation","e":"slat","i":8,"x":-0.021,"y":-0.5},
    {"p":"85","s":"Calculation","e":"slat","i":9,"x":-0.02,"y":0.4},
    {"p":"85","s":"Calculation","e":"slat","i":10,"x":-0.016,"y":0.78},
    {"p":"85","s":"Calculation","e":"slat","i":11,"x":-0.011,"y":0.88},
    {"p":"85","s":"Calculation","e":"slat","i":12,"x":-0.006,"y":0.5},
    {"p":"85","s":"Calculation","e":"slat","i":13,"x":-0.002,"y":-0.5},
    {"p":"85","s":"Calculation","e":"slat","i":14,"x":0.004,"y":-1.3},
    {"p":"85","s":"Calculation","e":"slat","i":15,"x":0.014,"y":-1.53},
    {"p":"85","s":"Calculation","e":"main","i":0,"x":0.896,"y":0.11},
    {"p":"85","s":"Calculation","e":"main","i":1,"x":0.87,"y":0.05},
    {"p":"85","s":"Calculation","e":"main","i":2,"x":0.815,"y":-0.05},
    {"p":"85","s":"Calculation","e":"main","i":3,"x":0.702,"y":-0.15},
    {"p":"85","s":"Calculation","e":"main","i":4,"x":0.6,"y":-0.25},
    {"p":"85","s":"Calculation","e":"main","i":5,"x":0.499,"y":-0.35},
    {"p":"85","s":"Calculation","e":"main","i":6,"x":0.407,"y":-0.44},
    {"p":"85","s":"Calculation","e":"main","i":7,"x":0.325,"y":-0.58},
    {"p":"85","s":"Calculation","e":"main","i":8,"x":0.264,"y":-0.74},
    {"p":"85","s":"Calculation","e":"main","i":9,"x":0.213,"y":-0.94},
    {"p":"85","s":"Calculation","e":"main","i":10,"x":0.172,"y":-1.17},
    {"p":"85","s":"Calculation","e":"main","i":11,"x":0.142,"y":-1.35},
    {"p":"85","s":"Calculation","e":"main","i":12,"x":0.111,"y":-1.42},
    {"p":"85","s":"Calculation","e":"main","i":13,"x":0.071,"y":-1.48},
    {"p":"85","s":"Calculation","e":"main","i":14,"x":0.035,"y":-1.55},
    {"p":"85","s":"Calculation","e":"main","i":15,"x":0.025,"y":-1.56},
    {"p":"85","s":"Calculation","e":"main","i":16,"x":0.014,"y":-1.53},
    {"p":"85","s":"Calculation","e":"main","i":17,"x":0.016,"y":-1.0},
    {"p":"85","s":"Calculation","e":"main","i":18,"x":0.02,"y":0.0},
    {"p":"85","s":"Calculation","e":"main","i":19,"x":0.023,"y":0.6},
    {"p":"85","s":"Calculation","e":"main","i":20,"x":0.026,"y":0.78},
    {"p":"85","s":"Calculation","e":"main","i":21,"x":0.03,"y":0.2},
    {"p":"85","s":"Calculation","e":"main","i":22,"x":0.038,"y":-0.6},
    {"p":"85","s":"Calculation","e":"main","i":23,"x":0.046,"y":-1.1},
    {"p":"85","s":"Calculation","e":"main","i":24,"x":0.05,"y":-1.2},
    {"p":"85","s":"Calculation","e":"main","i":25,"x":0.055,"y":-0.5},
    {"p":"85","s":"Calculation","e":"main","i":26,"x":0.063,"y":0.1},
    {"p":"85","s":"Calculation","e":"main","i":27,"x":0.072,"y":0.3},
    {"p":"85","s":"Calculation","e":"main","i":28,"x":0.081,"y":0.15},
    {"p":"85","s":"Calculation","e":"main","i":29,"x":0.091,"y":0.08},
    {"p":"85","s":"Calculation","e":"main","i":30,"x":0.12,"y":0.03},
    {"p":"85","s":"Calculation","e":"main","i":31,"x":0.147,"y":0.005},
    {"p":"85","s":"Calculation","e":"main","i":32,"x":0.198,"y":-0.05},
    {"p":"85","s":"Calculation","e":"main","i":33,"x":0.239,"y":-0.06},
    {"p":"85","s":"Calculation","e":"main","i":34,"x":0.397,"y":-0.03},
    {"p":"85","s":"Calculation","e":"main","i":35,"x":0.55,"y":0.03},
    {"p":"85","s":"Calculation","e":"main","i":36,"x":0.7,"y":0.07},
    {"p":"85","s":"Calculation","e":"main","i":37,"x":0.815,"y":0.09},
    {"p":"85","s":"Calculation","e":"main","i":38,"x":0.87,"y":0.16},
    {"p":"85","s":"Calculation","e":"main","i":39,"x":0.896,"y":0.24},
    {"p":"85","s":"Calculation","e":"flap","i":0,"x":0.896,"y":0.24},
    {"p":"85","s":"Calculation","e":"flap","i":1,"x":0.918,"y":0.07},
    {"p":"85","s":"Calculation","e":"flap","i":2,"x":0.942,"y":-0.09},
    {"p":"85","s":"Calculation","e":"flap","i":3,"x":0.957,"y":-0.14},
    {"p":"85","s":"Calculation","e":"flap","i":4,"x":0.967,"y":-0.09},
    {"p":"85","s":"Calculation","e":"flap","i":5,"x":0.976,"y":0.04},
    {"p":"85","s":"Calculation","e":"flap","i":6,"x":0.988,"y":0.24},
    {"p":"85","s":"Calculation","e":"flap","i":7,"x":0.981,"y":0.1},
    {"p":"85","s":"Calculation","e":"flap","i":8,"x":0.968,"y":-0.06},
    {"p":"85","s":"Calculation","e":"flap","i":9,"x":0.954,"y":-0.12},
    {"p":"85","s":"Calculation","e":"flap","i":10,"x":0.93,"y":0.0},
    {"p":"85","s":"Calculation","e":"flap","i":11,"x":0.898,"y":0.12},

    {"p":"85","s":"Experiment","x":-0.026,"y":-1.33},
    {"p":"85","s":"Experiment","x":0.025,"y":-1.33},
    {"p":"85","s":"Experiment","x":0.05,"y":-1.33},
    {"p":"85","s":"Experiment","x":0.091,"y":-1.33},
    {"p":"85","s":"Experiment","x":0.121,"y":-1.23},
    {"p":"85","s":"Experiment","x":0.147,"y":-1.08},
    {"p":"85","s":"Experiment","x":0.172,"y":-0.84},
    {"p":"85","s":"Experiment","x":0.198,"y":-0.75},
    {"p":"85","s":"Experiment","x":0.239,"y":-0.64},
    {"p":"85","s":"Experiment","x":0.259,"y":-0.56},
    {"p":"85","s":"Experiment","x":0.325,"y":-0.48},
    {"p":"85","s":"Experiment","x":0.366,"y":-0.44},
    {"p":"85","s":"Experiment","x":0.397,"y":-0.41},
    {"p":"85","s":"Experiment","x":0.499,"y":-0.35},
    {"p":"85","s":"Experiment","x":0.595,"y":-0.26},
    {"p":"85","s":"Experiment","x":0.698,"y":-0.21},
    {"p":"85","s":"Experiment","x":0.799,"y":-0.14},
    {"p":"85","s":"Experiment","x":0.901,"y":-0.1},
    {"p":"85","s":"Experiment","x":1.003,"y":0.03},
    {"p":"85","s":"Experiment","x":0.045,"y":-0.3},
    {"p":"85","s":"Experiment","x":0.076,"y":-0.32},
    {"p":"85","s":"Experiment","x":0.101,"y":0.04},
    {"p":"85","s":"Experiment","x":0.147,"y":0.07},
    {"p":"85","s":"Experiment","x":0.198,"y":-0.06},
    {"p":"85","s":"Experiment","x":0.239,"y":-0.1},
    {"p":"85","s":"Experiment","x":0.264,"y":-0.14},
    {"p":"85","s":"Experiment","x":0.295,"y":-0.15},
    {"p":"85","s":"Experiment","x":0.325,"y":-0.18},
    {"p":"85","s":"Experiment","x":0.356,"y":-0.18},
    {"p":"85","s":"Experiment","x":0.397,"y":-0.16},
    {"p":"85","s":"Experiment","x":0.499,"y":-0.17},
    {"p":"85","s":"Experiment","x":0.595,"y":-0.17},
    {"p":"85","s":"Experiment","x":0.698,"y":-0.14},
    {"p":"85","s":"Experiment","x":-0.031,"y":0.74},
    {"p":"85","s":"Experiment","x":-0.006,"y":0.58},
    {"p":"85","s":"Experiment","x":-0.006,"y":0.66}
  ]},
  "columns": 3,
  "spacing": {"row": 18, "column": 69},
  "bounds": "flush",
  "concat": [
    {"width": 338, "height": 416, "transform": [{"filter": "datum.p === '17'"}], "layer": [
      {"transform": [{"filter": "datum.s === 'Calculation'"}], "mark": {"type": "line", "color": "#1c1c1c", "strokeWidth": 1.6, "strokeJoin": "round"},
       "encoding": {"x": {"field": "x", "type": "quantitative", "scale": {"domain": [-0.035, 1.0], "nice": false, "zero": false}, "axis": {"values": [0, 0.2, 0.4, 0.6, 0.8, 1.0], "format": ".1f", "title": "CHORD"}},
                    "y": {"field": "y", "type": "quantitative", "scale": {"domain": [1.0, -2.2], "nice": false, "zero": false}, "axis": {"values": [1.0, 0.5, 0.0, -0.5, -1.0, -1.5], "format": ".1f", "title": "Cp", "labelAngle": -90, "offset": -11.4, "titleY": 254}},
                    "detail": {"field": "e", "type": "nominal"}, "order": {"field": "i", "type": "quantitative"}}},
      {"transform": [{"filter": "datum.s === 'Experiment'"}], "mark": {"type": "point", "filled": false, "color": "#1c1c1c", "size": 160, "strokeWidth": 1.3, "opacity": 1},
       "encoding": {"x": {"field": "x", "type": "quantitative", "scale": {"domain": [-0.035, 1.0], "nice": false, "zero": false}, "axis": {"values": [0, 0.2, 0.4, 0.6, 0.8, 1.0], "format": ".1f", "title": "CHORD"}},
                    "y": {"field": "y", "type": "quantitative", "scale": {"domain": [1.0, -2.2], "nice": false, "zero": false}, "axis": {"values": [1.0, 0.5, 0.0, -0.5, -1.0, -1.5], "format": ".1f", "title": "Cp", "labelAngle": -90, "offset": -11.4, "titleY": 254}},
                    "shape": {"field": "s", "type": "nominal", "scale": {"domain": ["Calculation", "Experiment"], "range": ["M-7,0H7", "circle"]},
                              "legend": {"orient": "none", "legendX": 1051.6, "legendY": 660, "title": null, "labelFontSize": 24, "labelFont": "DejaVu Sans", "labelColor": "#222", "symbolSize": 100, "symbolStrokeColor": "#1c1c1c", "symbolFillColor": "transparent", "symbolStrokeWidth": 1.6, "labelOffset": -210, "rowPadding": 66, "padding": 0, "labelAlign": "left", "labelLimit": 0}}}},
      {"transform": [{"filter": "datum.s === 'Label'"}], "mark": {"type": "text", "align": "left", "baseline": "middle", "fontSize": 23, "font": "DejaVu Sans", "color": "#222"},
       "encoding": {"x": {"datum": 0.275, "type": "quantitative"}, "y": {"datum": -1.35, "type": "quantitative"}, "text": {"field": "t", "type": "nominal"}}}
    ]},
    {"width": 338, "height": 416, "transform": [{"filter": "datum.p === '34'"}], "layer": [
      {"transform": [{"filter": "datum.s === 'Calculation'"}], "mark": {"type": "line", "color": "#1c1c1c", "strokeWidth": 1.6, "strokeJoin": "round"},
       "encoding": {"x": {"field": "x", "type": "quantitative", "scale": {"domain": [-0.035, 1.0], "nice": false, "zero": false}, "axis": {"values": [0, 0.2, 0.4, 0.6, 0.8, 1.0], "format": ".1f", "title": "CHORD"}},
                    "y": {"field": "y", "type": "quantitative", "scale": {"domain": [1.0, -2.2], "nice": false, "zero": false}, "axis": {"values": [1.0, 0.5, 0.0, -0.5, -1.0, -1.5], "format": ".1f", "title": "Cp", "labelAngle": -90, "offset": -11.4, "titleY": 254}},
                    "detail": {"field": "e", "type": "nominal"}, "order": {"field": "i", "type": "quantitative"}}},
      {"transform": [{"filter": "datum.s === 'Experiment'"}], "mark": {"type": "point", "filled": false, "color": "#1c1c1c", "size": 160, "strokeWidth": 1.3, "opacity": 1},
       "encoding": {"x": {"field": "x", "type": "quantitative", "scale": {"domain": [-0.035, 1.0], "nice": false, "zero": false}, "axis": {"values": [0, 0.2, 0.4, 0.6, 0.8, 1.0], "format": ".1f", "title": "CHORD"}},
                    "y": {"field": "y", "type": "quantitative", "scale": {"domain": [1.0, -2.2], "nice": false, "zero": false}, "axis": {"values": [1.0, 0.5, 0.0, -0.5, -1.0, -1.5], "format": ".1f", "title": "Cp", "labelAngle": -90, "offset": -11.4, "titleY": 254}},
                    "shape": {"field": "s", "type": "nominal", "scale": {"domain": ["Calculation", "Experiment"], "range": ["M-7,0H7", "circle"]},
                              "legend": {"orient": "none", "legendX": 1051.6, "legendY": 660, "title": null, "labelFontSize": 24, "labelFont": "DejaVu Sans", "labelColor": "#222", "symbolSize": 100, "symbolStrokeColor": "#1c1c1c", "symbolFillColor": "transparent", "symbolStrokeWidth": 1.6, "labelOffset": -210, "rowPadding": 66, "padding": 0, "labelAlign": "left", "labelLimit": 0}}}},
      {"transform": [{"filter": "datum.s === 'Label'"}], "mark": {"type": "text", "align": "left", "baseline": "middle", "fontSize": 23, "font": "DejaVu Sans", "color": "#222"},
       "encoding": {"x": {"datum": 0.278, "type": "quantitative"}, "y": {"datum": -1.35, "type": "quantitative"}, "text": {"field": "t", "type": "nominal"}}}
    ]},
    {"width": 338, "height": 416, "transform": [{"filter": "datum.p === '50'"}], "layer": [
      {"transform": [{"filter": "datum.s === 'Calculation'"}], "mark": {"type": "line", "color": "#1c1c1c", "strokeWidth": 1.6, "strokeJoin": "round"},
       "encoding": {"x": {"field": "x", "type": "quantitative", "scale": {"domain": [-0.035, 1.0], "nice": false, "zero": false}, "axis": {"values": [0, 0.2, 0.4, 0.6, 0.8, 1.0], "format": ".1f", "title": "CHORD"}},
                    "y": {"field": "y", "type": "quantitative", "scale": {"domain": [1.0, -2.2], "nice": false, "zero": false}, "axis": {"values": [1.0, 0.5, 0.0, -0.5, -1.0, -1.5], "format": ".1f", "title": "Cp", "labelAngle": -90, "offset": -11.4, "titleY": 254}},
                    "detail": {"field": "e", "type": "nominal"}, "order": {"field": "i", "type": "quantitative"}}},
      {"transform": [{"filter": "datum.s === 'Experiment'"}], "mark": {"type": "point", "filled": false, "color": "#1c1c1c", "size": 160, "strokeWidth": 1.3, "opacity": 1},
       "encoding": {"x": {"field": "x", "type": "quantitative", "scale": {"domain": [-0.035, 1.0], "nice": false, "zero": false}, "axis": {"values": [0, 0.2, 0.4, 0.6, 0.8, 1.0], "format": ".1f", "title": "CHORD"}},
                    "y": {"field": "y", "type": "quantitative", "scale": {"domain": [1.0, -2.2], "nice": false, "zero": false}, "axis": {"values": [1.0, 0.5, 0.0, -0.5, -1.0, -1.5], "format": ".1f", "title": "Cp", "labelAngle": -90, "offset": -11.4, "titleY": 254}},
                    "shape": {"field": "s", "type": "nominal", "scale": {"domain": ["Calculation", "Experiment"], "range": ["M-7,0H7", "circle"]},
                              "legend": {"orient": "none", "legendX": 1051.6, "legendY": 660, "title": null, "labelFontSize": 24, "labelFont": "DejaVu Sans", "labelColor": "#222", "symbolSize": 100, "symbolStrokeColor": "#1c1c1c", "symbolFillColor": "transparent", "symbolStrokeWidth": 1.6, "labelOffset": -210, "rowPadding": 66, "padding": 0, "labelAlign": "left", "labelLimit": 0}}}},
      {"transform": [{"filter": "datum.s === 'Label'"}], "mark": {"type": "text", "align": "left", "baseline": "middle", "fontSize": 23, "font": "DejaVu Sans", "color": "#222"},
       "encoding": {"x": {"datum": 0.28, "type": "quantitative"}, "y": {"datum": -1.35, "type": "quantitative"}, "text": {"field": "t", "type": "nominal"}}}
    ]},
    {"width": 338, "height": 416, "transform": [{"filter": "datum.p === '66'"}], "layer": [
      {"transform": [{"filter": "datum.s === 'Calculation'"}], "mark": {"type": "line", "color": "#1c1c1c", "strokeWidth": 1.6, "strokeJoin": "round"},
       "encoding": {"x": {"field": "x", "type": "quantitative", "scale": {"domain": [-0.035, 1.0], "nice": false, "zero": false}, "axis": {"values": [0, 0.2, 0.4, 0.6, 0.8, 1.0], "format": ".1f", "title": "CHORD"}},
                    "y": {"field": "y", "type": "quantitative", "scale": {"domain": [1.0, -2.2], "nice": false, "zero": false}, "axis": {"values": [1.0, 0.5, 0.0, -0.5, -1.0, -1.5], "format": ".1f", "title": "Cp", "labelAngle": -90, "offset": -11.4, "titleY": 254}},
                    "detail": {"field": "e", "type": "nominal"}, "order": {"field": "i", "type": "quantitative"}}},
      {"transform": [{"filter": "datum.s === 'Experiment'"}], "mark": {"type": "point", "filled": false, "color": "#1c1c1c", "size": 160, "strokeWidth": 1.3, "opacity": 1},
       "encoding": {"x": {"field": "x", "type": "quantitative", "scale": {"domain": [-0.035, 1.0], "nice": false, "zero": false}, "axis": {"values": [0, 0.2, 0.4, 0.6, 0.8, 1.0], "format": ".1f", "title": "CHORD"}},
                    "y": {"field": "y", "type": "quantitative", "scale": {"domain": [1.0, -2.2], "nice": false, "zero": false}, "axis": {"values": [1.0, 0.5, 0.0, -0.5, -1.0, -1.5], "format": ".1f", "title": "Cp", "labelAngle": -90, "offset": -11.4, "titleY": 254}},
                    "shape": {"field": "s", "type": "nominal", "scale": {"domain": ["Calculation", "Experiment"], "range": ["M-7,0H7", "circle"]},
                              "legend": {"orient": "none", "legendX": 1051.6, "legendY": 660, "title": null, "labelFontSize": 24, "labelFont": "DejaVu Sans", "labelColor": "#222", "symbolSize": 100, "symbolStrokeColor": "#1c1c1c", "symbolFillColor": "transparent", "symbolStrokeWidth": 1.6, "labelOffset": -210, "rowPadding": 66, "padding": 0, "labelAlign": "left", "labelLimit": 0}}}},
      {"transform": [{"filter": "datum.s === 'Label'"}], "mark": {"type": "text", "align": "left", "baseline": "middle", "fontSize": 23, "font": "DejaVu Sans", "color": "#222"},
       "encoding": {"x": {"datum": 0.265, "type": "quantitative"}, "y": {"datum": -1.36, "type": "quantitative"}, "text": {"field": "t", "type": "nominal"}}}
    ]},
    {"width": 338, "height": 416, "transform": [{"filter": "datum.p === '85'"}], "layer": [
      {"transform": [{"filter": "datum.s === 'Calculation'"}], "mark": {"type": "line", "color": "#1c1c1c", "strokeWidth": 1.6, "strokeJoin": "round"},
       "encoding": {"x": {"field": "x", "type": "quantitative", "scale": {"domain": [-0.035, 1.0], "nice": false, "zero": false}, "axis": {"values": [0, 0.2, 0.4, 0.6, 0.8, 1.0], "format": ".1f", "title": "CHORD"}},
                    "y": {"field": "y", "type": "quantitative", "scale": {"domain": [1.0, -2.2], "nice": false, "zero": false}, "axis": {"values": [1.0, 0.5, 0.0, -0.5, -1.0, -1.5], "format": ".1f", "title": "Cp", "labelAngle": -90, "offset": -11.4, "titleY": 254}},
                    "detail": {"field": "e", "type": "nominal"}, "order": {"field": "i", "type": "quantitative"}}},
      {"transform": [{"filter": "datum.s === 'Experiment'"}], "mark": {"type": "point", "filled": false, "color": "#1c1c1c", "size": 160, "strokeWidth": 1.3, "opacity": 1},
       "encoding": {"x": {"field": "x", "type": "quantitative", "scale": {"domain": [-0.035, 1.0], "nice": false, "zero": false}, "axis": {"values": [0, 0.2, 0.4, 0.6, 0.8, 1.0], "format": ".1f", "title": "CHORD"}},
                    "y": {"field": "y", "type": "quantitative", "scale": {"domain": [1.0, -2.2], "nice": false, "zero": false}, "axis": {"values": [1.0, 0.5, 0.0, -0.5, -1.0, -1.5], "format": ".1f", "title": "Cp", "labelAngle": -90, "offset": -11.4, "titleY": 254}},
                    "shape": {"field": "s", "type": "nominal", "scale": {"domain": ["Calculation", "Experiment"], "range": ["M-7,0H7", "circle"]},
                              "legend": {"orient": "none", "legendX": 1051.6, "legendY": 660, "title": null, "labelFontSize": 24, "labelFont": "DejaVu Sans", "labelColor": "#222", "symbolSize": 100, "symbolStrokeColor": "#1c1c1c", "symbolFillColor": "transparent", "symbolStrokeWidth": 1.6, "labelOffset": -210, "rowPadding": 66, "padding": 0, "labelAlign": "left", "labelLimit": 0}}}},
      {"transform": [{"filter": "datum.s === 'Label'"}], "mark": {"type": "text", "align": "left", "baseline": "middle", "fontSize": 23, "font": "DejaVu Sans", "color": "#222"},
       "encoding": {"x": {"datum": 0.27, "type": "quantitative"}, "y": {"datum": -1.37, "type": "quantitative"}, "text": {"field": "t", "type": "nominal"}}}
    ]}
  ],
  "config": {
    "view": {"stroke": null},
    "font": "DejaVu Sans",
    "axis": {"domainColor": "#1c1c1c", "domainWidth": 1.5, "tickColor": "#1c1c1c", "tickWidth": 1.3, "tickSize": 6,
             "labelFont": "DejaVu Sans", "labelFontSize": 17, "labelColor": "#222",
             "titleFont": "DejaVu Sans", "titleFontSize": 23, "titleFontWeight": "normal", "titleColor": "#222", "grid": false},
    "axisX": {"labelPadding": 6, "titlePadding": 6},
    "axisY": {"labelPadding": 10, "titlePadding": 5}
  }
}
